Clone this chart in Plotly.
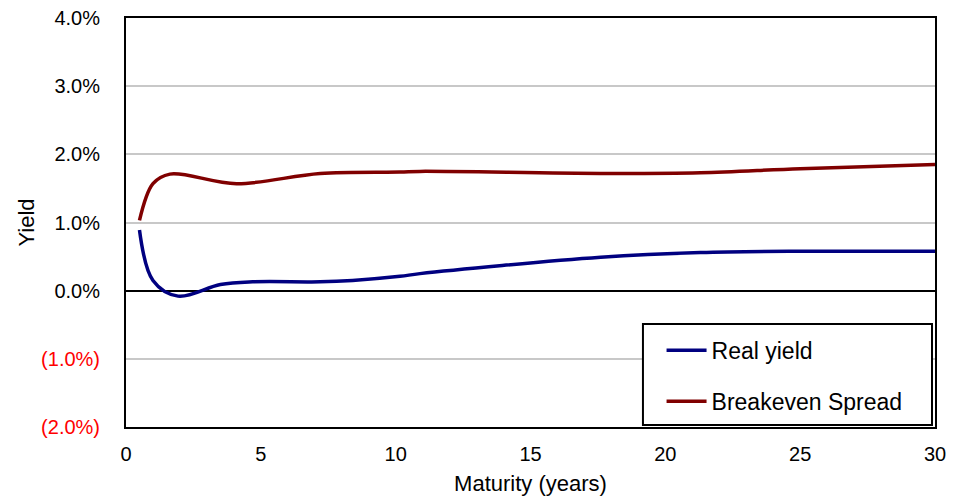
import plotly.graph_objects as go

maturity_real = [0.5, 1.0, 1.93, 3.5, 4.7, 7.2, 8.4, 10.16, 10.9, 17.6, 21.3, 25, 30]
real_yield = [0.89, 0.15, -0.08, 0.09, 0.13, 0.13, 0.15, 0.21, 0.25, 0.49, 0.56, 0.58, 0.58]

maturity_be = [0.5, 1.0, 1.63, 4.1, 7.2, 10.16, 10.9, 17.6, 21.3, 25, 30]
breakeven = [1.03, 1.57, 1.71, 1.57, 1.72, 1.74, 1.75, 1.72, 1.73, 1.79, 1.85]

y_ticks = [-2, -1, 0, 1, 2, 3, 4]
y_ticktext = ["<span style='color:#ff0000'>(2.0%)</span>",
              "<span style='color:#ff0000'>(1.0%)</span>",
              "0.0%", "1.0%", "2.0%", "3.0%", "4.0%"]

FONT = "Liberation Sans, Arial, sans-serif"

fig = go.Figure()
fig.add_trace(go.Scatter(x=maturity_real, y=real_yield, mode="lines", name="Real yield",
                         line=dict(color="#000080", width=3.5, shape="spline", smoothing=1.0),
                         legendgroup="a"))
fig.add_trace(go.Scatter(x=maturity_be, y=breakeven, mode="lines", name="Breakeven Spread",
                         line=dict(color="#800000", width=3.5, shape="spline", smoothing=1.0),
                         legendgroup="b"))

# legend frame (paper coordinates)
fig.add_shape(type="rect", xref="paper", yref="paper",
              x0=0.639, x1=0.9963, y0=0.0049, y1=0.2518,
              line=dict(color="black", width=2), fillcolor="white", layer="above")

fig.update_layout(
    width=968, height=499,
    margin=dict(l=126, r=33, t=18, b=72),
    paper_bgcolor="white", plot_bgcolor="white",
    font=dict(family=FONT, color="black", size=20),
    legend=dict(x=0.662, xanchor="left", y=0.01, yanchor="bottom",
                borderwidth=0, bgcolor="rgba(0,0,0,0)",
                font=dict(size=23, family=FONT), tracegroupgap=18,
                traceorder="grouped", itemwidth=40),
    xaxis=dict(range=[0, 30], tickvals=[0, 5, 10, 15, 20, 25, 30], showgrid=False,
               showline=True, linecolor="black", linewidth=2, mirror=True,
               ticks="", zeroline=False, tickfont=dict(size=20), ticklabelstandoff=8,
               automargin=False,
               title=dict(text="Maturity (years)", font=dict(size=22), standoff=12)),
    yaxis=dict(range=[-2, 4], tickvals=y_ticks, ticktext=y_ticktext,
               showgrid=True, gridcolor="#c8c8c8", gridwidth=1.5,
               zeroline=True, zerolinecolor="black", zerolinewidth=1.5,
               showline=True, linecolor="black", linewidth=2, mirror=True,
               ticks="", tickfont=dict(size=20), ticklabelstandoff=20,
               automargin=False,
               title=dict(text="Yield", font=dict(size=22), standoff=0)),
)

fig.write_html("out.html")
